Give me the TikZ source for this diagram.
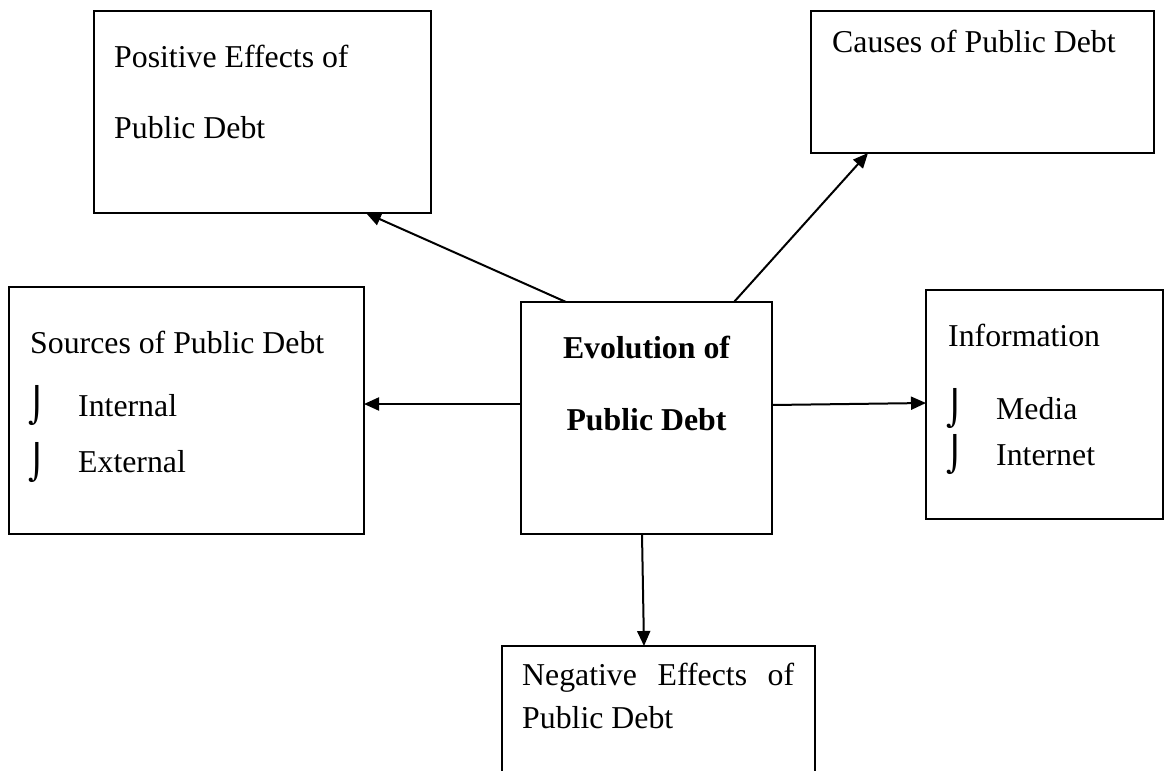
\documentclass[tikz,border=0pt]{standalone}
\usepackage{fontspec}
\setmainfont{Liberation Serif}
\newfontfamily\symfont{DejaVu Sans}
\usetikzlibrary{arrows.meta}
\begin{document}
\begin{tikzpicture}[x=1pt,y=-1pt,
  box/.style={draw,line width=2pt,rectangle,inner sep=0pt,outer sep=0pt,anchor=north west},
  txt/.style={inner sep=0pt,anchor=base west,font=\fontsize{31.8}{38}\selectfont},
  btxt/.style={inner sep=0pt,anchor=base,font=\fontsize{31.8}{38}\selectfont\bfseries},
  bul/.style={inner sep=0pt,anchor=center,font=\fontsize{34}{38}\selectfont\symfont},
  arr/.style={line width=2pt,-{Triangle[length=15pt,width=13pt]}}]
\useasboundingbox (0,0) rectangle (1171,771);
\fill[white] (0,0) rectangle (1171,771);
\begin{scope}
\clip (0,0) rectangle (1171,771);
\node[box,minimum width=337pt,minimum height=202pt] (pos) at (94,11) {};
\node[box,minimum width=343pt,minimum height=142pt] (cau) at (811,11) {};
\node[box,minimum width=355pt,minimum height=247pt] (src) at (9,287) {};
\node[box,minimum width=251pt,minimum height=232pt] (ev) at (521,302) {};
\node[box,minimum width=237pt,minimum height=229pt] (inf) at (926,290) {};
\node[box,minimum width=313pt,minimum height=160pt] (neg) at (502,646) {};
\end{scope}
% texts
\node[txt] (t1) at (114,67) {Positive Effects of};
\node[txt] (t2) at (114,138) {Public Debt};
\node[txt] (t3) at (832,52) {Causes of Public Debt};
\node[txt] (t4) at (30,353) {Sources of Public Debt};
\node[bul] (b1) at (37,406) {⌡};
\node[txt] (t5) at (78,416) {Internal};
\node[bul] (b2) at (37,463) {⌡};
\node[txt] (t6) at (78,472) {External};
\node[btxt] (t7) at (646.5,358) {Evolution of};
\node[btxt] (t8) at (646.5,430) {Public Debt};
\node[txt] (t9) at (948,346) {Information};
\node[bul] (b3) at (955,409) {⌡};
\node[txt] (t10) at (996,419) {Media};
\node[bul] (b4) at (955,455) {⌡};
\node[txt] (t11) at (996,465) {Internet};
\node[txt] (t12) at (522,685) {\makebox[272pt][s]{Negative Effects of}};
\node[txt] (t13) at (522,728) {Public Debt};
% connectors
\draw[arr] ([xshift=45pt]ev.north west) -- ([xshift=272pt]pos.south west);
\draw[arr] ([xshift=213pt]ev.north west) -- ([xshift=57pt]cau.south west);
\draw[arr] ([yshift=-102pt]ev.north west) -- ([yshift=-117pt]src.north east);
\draw[arr] ([yshift=-103pt]ev.north east) -- ([yshift=-113pt]inf.north west);
\draw[arr] ([xshift=121pt]ev.south west) -- ([xshift=142pt]neg.north west);
\end{tikzpicture}
\end{document}
